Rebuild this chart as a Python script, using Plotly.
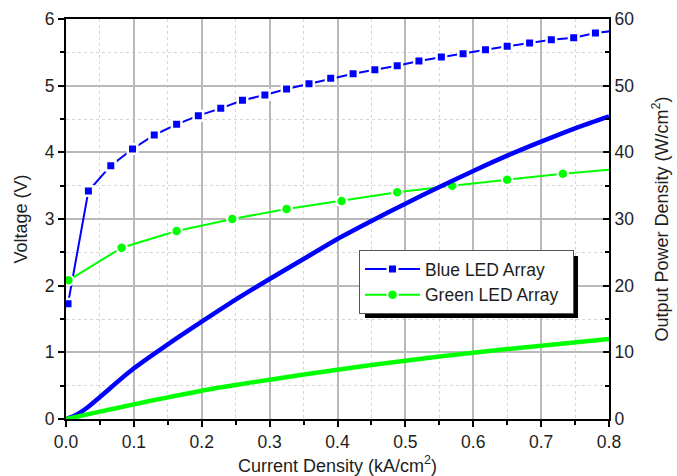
import plotly.graph_objects as go

# Voltage vs current density (left axis)
blue_v_j = [0.003, 0.033, 0.066, 0.098, 0.130, 0.163, 0.195, 0.228, 0.260, 0.293, 0.325, 0.358, 0.390,
            0.423, 0.455, 0.488, 0.520, 0.553, 0.585, 0.618, 0.650, 0.683, 0.715, 0.748, 0.780, 0.813]
blue_v = [1.73, 3.42, 3.80, 4.05, 4.26, 4.42, 4.55, 4.66, 4.78, 4.86, 4.95, 5.03, 5.11,
          5.18, 5.24, 5.30, 5.37, 5.43, 5.48, 5.54, 5.59, 5.64, 5.69, 5.72, 5.79, 5.83]

green_v_j = [0.0035, 0.082, 0.163, 0.245, 0.325, 0.406, 0.488, 0.569, 0.650, 0.732, 0.813]
green_v = [2.08, 2.57, 2.82, 3.00, 3.15, 3.27, 3.40, 3.50, 3.59, 3.68, 3.75]

# Output power density vs current density (right axis)
blue_p_j = [0, 0.01, 0.02, 0.03, 0.05, 0.1, 0.15, 0.2, 0.25, 0.3, 0.35, 0.4,
            0.45, 0.5, 0.55, 0.6, 0.65, 0.7, 0.75, 0.8]
blue_p = [0, 0.35, 0.9, 1.6, 3.3, 7.6, 11.2, 14.6, 17.9, 21.0, 24.0, 27.0,
          29.7, 32.3, 34.8, 37.2, 39.5, 41.6, 43.6, 45.4]

green_p_j = [0, 0.05, 0.1, 0.15, 0.2, 0.25, 0.3, 0.4, 0.5, 0.6, 0.7, 0.8]
green_p = [0, 1.1, 2.2, 3.25, 4.25, 5.1, 5.9, 7.4, 8.75, 9.95, 11.0, 12.0]

BLUE = "#0000ff"
GREEN = "#00ff00"
FONT = "Liberation Sans, Arial, sans-serif"
TXT = "#1e1e1e"

fig = go.Figure()

fig.add_trace(go.Scatter(
    x=blue_p_j, y=blue_p, yaxis="y2", mode="lines",
    line=dict(color=BLUE, width=4.5, shape="spline", smoothing=0.8),
    showlegend=False))
fig.add_trace(go.Scatter(
    x=green_p_j, y=green_p, yaxis="y2", mode="lines",
    line=dict(color=GREEN, width=4.5, shape="spline", smoothing=0.8),
    showlegend=False))

fig.add_trace(go.Scatter(
    x=blue_v_j, y=blue_v, mode="lines+markers", name="Blue LED Array\u00a0\u00a0",
    line=dict(color=BLUE, width=2),
    marker=dict(symbol="square", size=9.5, color=BLUE, line=dict(color="white", width=2.5))))
fig.add_trace(go.Scatter(
    x=green_v_j, y=green_v, mode="lines+markers", name="Green LED Array\u00a0\u00a0",
    line=dict(color=GREEN, width=2),
    marker=dict(symbol="circle", size=10.5, color=GREEN, line=dict(color="white", width=2))))

# drop shadow behind the legend box
fig.add_shape(type="rect", xref="paper", yref="paper",
              x0=0.5506, x1=0.9429, y0=0.2525, y1=0.4075,
              fillcolor="black", line=dict(width=0), layer="above")

fig.update_layout(
    width=677, height=476,
    margin=dict(l=66, r=68, t=19, b=57, autoexpand=False),
    paper_bgcolor="white", plot_bgcolor="white",
    font=dict(family=FONT, size=17.5, color=TXT),
    showlegend=True,
    legend=dict(x=0.5396, y=0.4225, xanchor="left", yanchor="top",
                bgcolor="white", bordercolor="#555555", borderwidth=1,
                font=dict(family=FONT, size=17.5, color=TXT),
                itemwidth=55, tracegroupgap=0),
    xaxis=dict(
        range=[0, 0.8], dtick=0.1, tick0=0, tickformat=".1f", automargin=False,
        showline=True, linecolor="black", linewidth=2, mirror=True,
        ticks="outside", ticklen=6, tickwidth=1.5, tickcolor="black",
        showgrid=True, gridcolor="#b9b9b9", gridwidth=1.5,
        zeroline=False,
        minor=dict(dtick=0.05, ticks="outside", ticklen=4, tickwidth=1.5, tickcolor="black",
                   showgrid=True, gridcolor="#d6d6d6", griddash="dot", gridwidth=1),
        title=dict(text="Current Density (kA/cm<sup>2</sup>)", font=dict(size=18), standoff=14),
    ),
    yaxis=dict(
        range=[0, 6], dtick=1, tick0=0, automargin=False,
        showline=True, linecolor="black", linewidth=2,
        ticks="outside", ticklen=6, tickwidth=1.5, tickcolor="black",
        showgrid=True, gridcolor="#b9b9b9", gridwidth=1.5,
        zeroline=False,
        minor=dict(dtick=0.5, ticks="outside", ticklen=4, tickwidth=1.5, tickcolor="black",
                   showgrid=True, gridcolor="#d6d6d6", griddash="dot", gridwidth=1),
        title=dict(text="Voltage (V)", font=dict(size=18), standoff=12),
    ),
    yaxis2=dict(
        range=[0, 60], dtick=10, tick0=0, overlaying="y", side="right", automargin=False,
        showline=True, linecolor="black", linewidth=2,
        ticks="inside", ticklen=6, tickwidth=1.5, tickcolor="black",
        showgrid=False, zeroline=False,
        minor=dict(dtick=5, ticks="inside", ticklen=4, tickwidth=1.5, tickcolor="black", showgrid=False),
        title=dict(text="Output Power Density (W/cm<sup>2</sup>)", font=dict(size=18), standoff=22),
    ),
)

fig.write_html("out.html")
